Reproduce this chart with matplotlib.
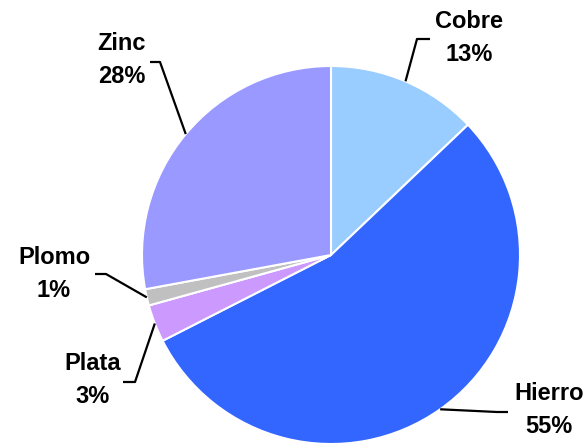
import numpy as np
import matplotlib
matplotlib.use('agg')
import matplotlib.pyplot as plt

metals = ["Cobre", "Hierro", "Plata", "Plomo", "Zinc"]
shares = [12.9, 54.6, 3.2, 1.4, 27.9]
colors = ["#99CCFF", "#3366FF", "#CC99FF", "#C0C0C0", "#9999FF"]

# label layout in pixel coords (top-left origin): text centre, elbow, elbow end
label_pos = [(469, 38), (549, 410), (93, 380), (54, 274), (122, 60)]
elbows = [((417, 39), (430, 39)), ((497, 412), (508, 412)),
          ((135, 382), (123, 382)), ((106, 274), (95, 274)),
          ((160, 62), (150, 62))]

W, H = 586, 443
fig = plt.figure(figsize=(W / 100, H / 100), dpi=100)
ax = fig.add_axes([0, 0, 1, 1])
ax.axis('off')

cx, cy, r = 331, H - 255, 189
wedges, _ = ax.pie(shares, colors=colors, startangle=90, counterclock=False,
                   center=(cx, cy), radius=r,
                   wedgeprops=dict(edgecolor='white', linewidth=1.5))
ax.set_xlim(0, W)
ax.set_ylim(0, H)
ax.set_aspect('equal')

total = sum(shares)
for w, name, val, (tx, ty), (e1, e2) in zip(wedges, metals, shares, label_pos, elbows):
    mid = np.deg2rad((w.theta1 + w.theta2) / 2)
    sx, sy = cx + r * np.cos(mid), cy + r * np.sin(mid)
    ax.plot([sx, e1[0], e2[0]], [sy, H - e1[1], H - e2[1]], color='black', lw=1.6,
            solid_capstyle='butt')
    pct = int(round(val / total * 100))
    ax.text(tx, H - ty, f"{name}\n{pct}%", ha='center', va='center',
            fontsize=17, fontweight='bold', family='Liberation Sans', linespacing=1.55)

fig.savefig("out.png", dpi=100)
